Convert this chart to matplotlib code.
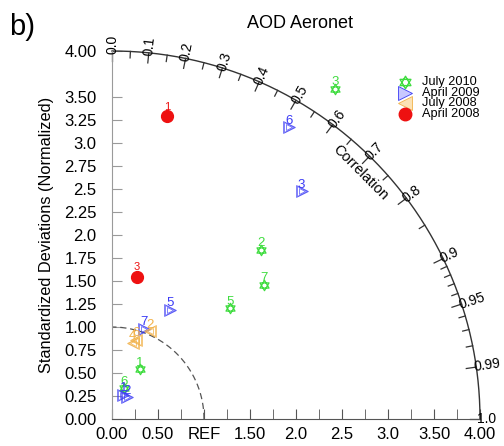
import numpy as np
import matplotlib
matplotlib.use("Agg")
import matplotlib.pyplot as plt
from matplotlib.path import Path

plt.rcParams['font.family'] = ['Liberation Sans', 'DejaVu Sans']

# Normalized standard deviation and correlation for each run
jul2010_std = [0.62, 2.45, 4.33, 1.76, 0.36, 2.21]
jul2010_corr = [0.49, 0.66, 0.56, 0.73, 0.37, 0.75]
jul2010_lab = ['1', '2', '3', '5', '6', '7']

apr2009_std = [0.29, 0.29, 3.22, 1.34, 3.71, 1.04]
apr2009_corr = [0.42, 0.58, 0.64, 0.47, 0.52, 0.33]
apr2009_lab = ['1', '2', '3', '5', '6', '7']

jul2008_std = [1.04, 0.86, 0.90]
jul2008_corr = [0.40, 0.26, 0.29]
jul2008_lab = ['2', '4', '6']

apr2008_std = [3.35, 1.57]
apr2008_corr = [0.18, 0.17]
apr2008_lab = ['1', '3']

x_ticks = [0, 0.5, 1.0, 1.5, 2.0, 2.5, 3.0, 3.5, 4.0]
x_ticklabels = ['0.00', '0.50', 'REF', '1.50', '2.0', '2.5', '3.0', '3.50', '4.00']
y_ticks = [0, 0.25, 0.5, 0.75, 1.0, 1.25, 1.5, 1.75, 2.0, 2.25, 2.5, 2.75, 3.0, 3.25, 3.5, 4.0]
y_ticklabels = ['0.00', '0.25', '0.50', '0.75', '1.00', '1.25', '1.50', '1.75', '2.0',
                '2.25', '2.5', '2.75', '3.0', '3.25', '3.50', '4.00']
corr_major = [0.0, 0.1, 0.2, 0.3, 0.4, 0.5, 0.6, 0.7, 0.8, 0.9, 0.95, 0.99, 1.0]
corr_major_lab = ['0.0', '0.1', '0.2', '0.3', '0.4', '0.5', '0.6', '0.7', '0.8', '0.9', '0.95', '0.99', '1.0']
corr_minor = [0.05, 0.15, 0.25, 0.35, 0.45, 0.55, 0.65, 0.75, 0.85,
              0.91, 0.92, 0.93, 0.94, 0.96, 0.97, 0.98]
legend_names = ['July 2010', 'April 2009', 'July 2008', 'April 2008']

GREEN = '#3fdc3f'
BLUE = '#3a3af5'
ORANGE = '#f2b24a'
RED = '#ee1111'
RMAX = 4.0

# star of David marker: two overlapping triangles
up = [(np.cos(np.radians(a)), np.sin(np.radians(a))) for a in (90, 210, 330)]
dn = [(np.cos(np.radians(a)), np.sin(np.radians(a))) for a in (270, 30, 150)]
star = Path(up + [(0, 0)] + dn + [(0, 0)],
            [Path.MOVETO, Path.LINETO, Path.LINETO, Path.CLOSEPOLY] * 2)


def to_xy(std, corr):
    std = np.asarray(std)
    th = np.arccos(np.asarray(corr))
    return std * np.cos(th), std * np.sin(th)


fig = plt.figure(figsize=(5.04, 4.46), dpi=100)
ax = fig.add_axes([112 / 504, 27 / 446, 368 / 504, 368 / 446])
ax.set_xlim(0, 4)
ax.set_ylim(0, 4)

# axes and ticks
for s in ['top', 'right']:
    ax.spines[s].set_visible(False)
ax.spines['left'].set_color('#9a9a9a')
ax.spines['bottom'].set_color('#555555')
ax.set_xticks(x_ticks)
ax.set_xticklabels(x_ticklabels, fontsize=12)
ax.set_xticks(np.arange(0.25, 4, 0.5), minor=True)
ax.set_yticks(y_ticks)
ax.set_yticklabels(y_ticklabels, fontsize=12)
ax.tick_params(axis='x', which='both', direction='in', length=7, color='#555555', pad=6)
ax.tick_params(axis='y', which='both', direction='in', length=7, color='#9a9a9a', pad=11)

# outer correlation arc
t = np.linspace(0, np.pi / 2, 300)
ax.plot(RMAX * np.cos(t), RMAX * np.sin(t), color='#333333', lw=1.0, clip_on=False)
# reference std circle
ax.plot(np.cos(t), np.sin(t), color='#555555', lw=0.9, ls=(0, (5, 3)), clip_on=False)

for c, lab in zip(corr_major, corr_major_lab):
    th = np.arccos(c)
    ax.plot([RMAX * np.cos(th), (RMAX - 0.11) * np.cos(th)],
            [RMAX * np.sin(th), (RMAX - 0.11) * np.sin(th)],
            color='#333333', lw=0.9, clip_on=False)
    ax.text(3.97 * np.cos(th), 3.97 * np.sin(th), lab, rotation=np.degrees(th),
            rotation_mode='anchor', ha='left', va='center', fontsize=10)
for c in corr_minor:
    th = np.arccos(c)
    ax.plot([RMAX * np.cos(th), (RMAX - 0.07) * np.cos(th)],
            [RMAX * np.sin(th), (RMAX - 0.07) * np.sin(th)],
            color='#333333', lw=0.9, clip_on=False)

ax.text(3.80 * np.cos(np.radians(44.8)), 3.80 * np.sin(np.radians(44.8)), 'Correlation',
        rotation=-45, rotation_mode='anchor', ha='center', va='center', fontsize=10.5)


def put_labels(x, y, labs, color, size=9.5, dy=0.5):
    for xi, yi, lab in zip(x, y, labs):
        ax.annotate(lab, (xi, yi), xytext=(0, dy), textcoords='offset points',
                    ha='center', va='bottom', color=color, fontsize=size, clip_on=False)


# July 2010
x, y = to_xy(jul2010_std, jul2010_corr)
ax.plot(x, y, ls='none', marker=star, ms=7.5, mfc='none', mec=GREEN, mew=0.9, clip_on=False)
put_labels(x, y, jul2010_lab, GREEN)

# April 2009 (nested triangles give the shaded look)
x, y = to_xy(apr2009_std, apr2009_corr)
for ms in (9, 6.5, 4):
    ax.plot(x, y, ls='none', marker='>', ms=ms, mfc='none', mec=BLUE, mew=0.6, alpha=0.75)
put_labels(x, y, apr2009_lab, BLUE)

# July 2008
x, y = to_xy(jul2008_std, jul2008_corr)
for ms in (9, 6.5, 4):
    ax.plot(x, y, ls='none', marker='<', ms=ms, mfc='none', mec=ORANGE, mew=0.6, alpha=0.85)
put_labels(x, y, jul2008_lab, ORANGE)

# April 2008
x, y = to_xy(apr2008_std, apr2008_corr)
ax.plot(x, y, ls='none', marker='o', ms=8.5, mfc=RED, mec=RED)
put_labels(x, y, apr2008_lab, RED, size=8, dy=3)

# legend, rows packed tightly
leg_styles = [
    dict(marker=star, ms=9, mfc='none', mec=GREEN, mew=1.0),
    dict(marker='>', ms=10, mfc='#c8c8ff', mec=BLUE, mew=0.6),
    dict(marker='<', ms=10, mfc='#fbe2b5', mec=ORANGE, mew=0.6),
    dict(marker='o', ms=9, mfc=RED, mec=RED),
]
for i, (name, st) in enumerate(zip(legend_names, leg_styles)):
    yf = 1 - (82 + 10.7 * i) / 446
    ax.plot([405 / 504], [yf], ls='none', transform=fig.transFigure, clip_on=False, **st)
    fig.text(422 / 504, yf, name, ha='left', va='center', fontsize=9.2)

fig.text(300 / 504, 1 - 23 / 446, 'AOD Aeronet', ha='center', va='center', fontsize=13)
fig.text(9 / 504, 1 - 27 / 446, 'b)', ha='left', va='center', fontsize=21)
fig.text(47 / 504, 1 - 235 / 446, 'Standardized Deviations (Normalized)', rotation=90,
         ha='center', va='center', fontsize=11.8)

fig.savefig('out.png', dpi=100)
